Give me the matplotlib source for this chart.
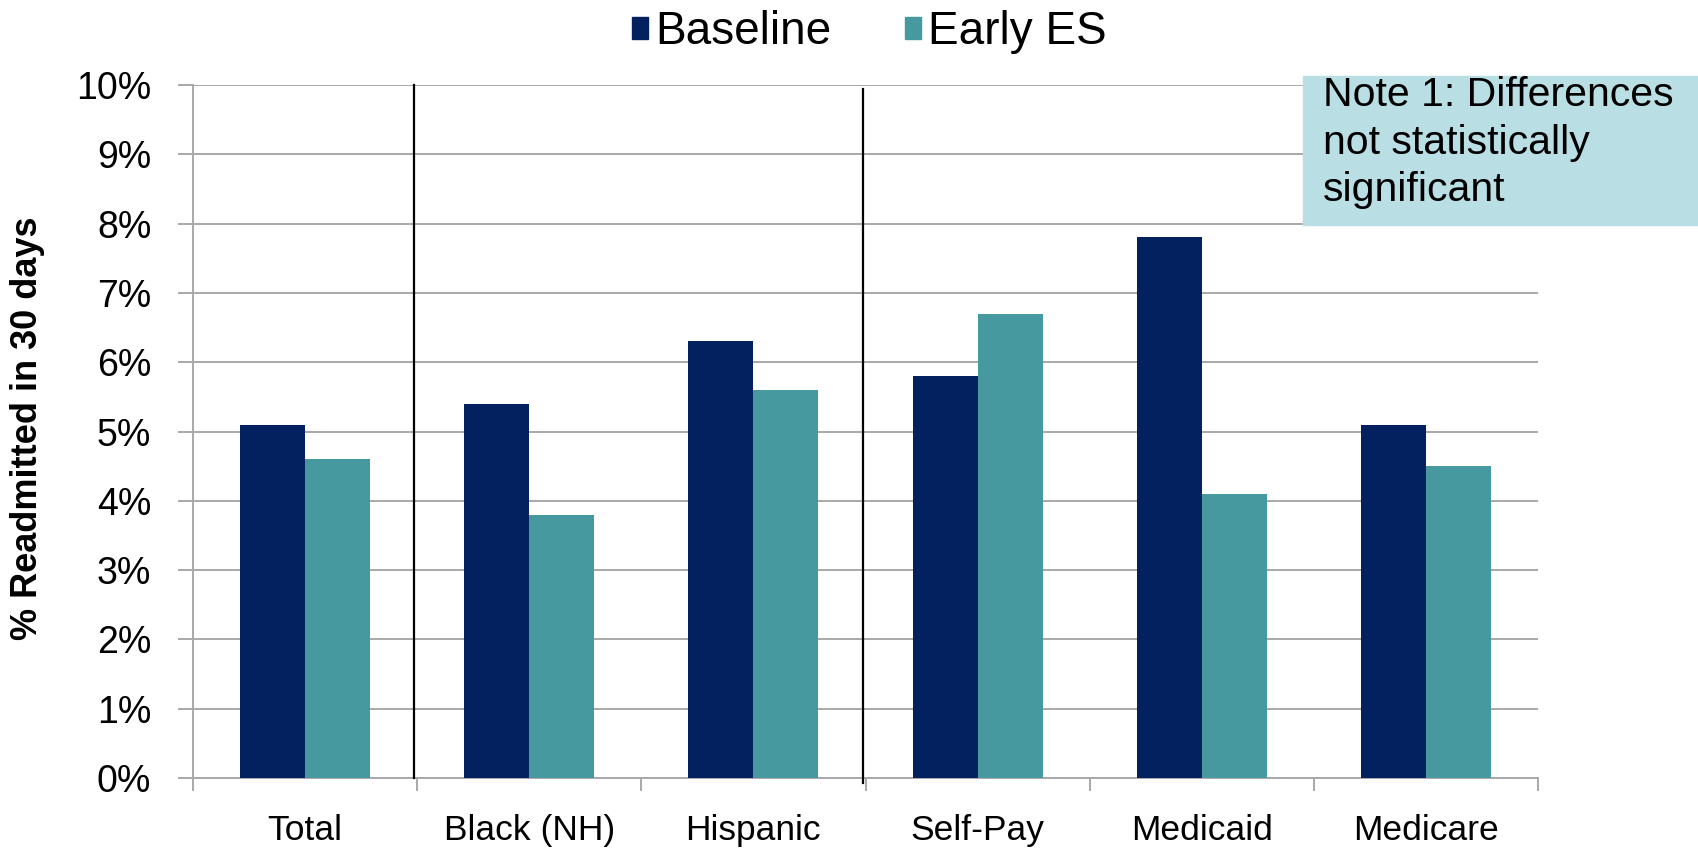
import matplotlib
matplotlib.use('Agg')
import matplotlib.pyplot as plt
from matplotlib.patches import Patch, Rectangle

plt.rcParams['font.family'] = ['Liberation Sans', 'DejaVu Sans']

categories = ['Total', 'Black (NH)', 'Hispanic', 'Self-Pay', 'Medicaid', 'Medicare']
baseline = [5.1, 5.4, 6.3, 5.8, 7.8, 5.1]
early_es = [4.6, 3.8, 5.6, 6.7, 4.1, 4.5]
series_names = ['Baseline', 'Early ES']
note_text = 'Note 1: Differences\nnot statistically\nsignificant'

NAVY = '#03215F'
TEAL = '#4799A0'
GRID = '#A8A8A8'

fig = plt.figure(figsize=(16.98, 8.49), dpi=100)
ax = fig.add_axes([193 / 1698, 1 - 778 / 849, 1345 / 1698, (778 - 85) / 849])

x = list(range(len(categories)))
w = 0.29
ax.bar([i - w / 2 for i in x], baseline, width=w, color=NAVY, zorder=3)
ax.bar([i + w / 2 for i in x], early_es, width=w, color=TEAL, zorder=3)

ax.set_xlim(-0.5, len(categories) - 0.5)
ax.set_ylim(0, 10)
ax.set_yticks(range(0, 11))
ax.set_yticklabels(['%d%%' % v for v in range(0, 11)], fontsize=27)
ax.yaxis.grid(True, color=GRID, lw=1.4, zorder=0)
ax.tick_params(axis='y', length=11, width=1.4, color=GRID, pad=19)

# group boundaries carry the tick marks, names sit in between
ax.set_xticks([i - 0.5 for i in range(len(categories) + 1)])
ax.set_xticklabels([])
ax.set_xticks(x, minor=True)
ax.set_xticklabels(categories, minor=True, fontsize=25.5)
ax.tick_params(axis='x', which='major', length=9, width=1.4, color=GRID)
ax.tick_params(axis='x', which='minor', length=0, pad=26)

for side in ['top', 'right']:
    ax.spines[side].set_visible(False)
for side in ['left', 'bottom']:
    ax.spines[side].set_color(GRID)
    ax.spines[side].set_linewidth(1.4)

# separators between total / race / payer groups
ax.plot([0.487, 0.487], [0, 10], color='black', lw=1.6, zorder=4, clip_on=False)
ax.plot([2.487, 2.487], [-0.07, 9.94], color='black', lw=1.6, zorder=4, clip_on=False)

fig.text(28 / 1698, 0.496, '% Readmitted in 30 days', rotation=90,
         ha='center', va='center', fontsize=26, fontweight='bold')

handles = [Patch(color=NAVY), Patch(color=TEAL)]
fig.legend(handles, series_names, loc='center', bbox_to_anchor=(0.512, 1 - 32 / 849),
           ncol=2, frameon=False, fontsize=33, handlelength=0.36, handleheight=0.36,
           handletextpad=0.15, columnspacing=1.6)

fig.patches.append(Rectangle((1303 / 1698, 1 - 225 / 849), 395 / 1698, 149 / 849,
                             transform=fig.transFigure, color='#B9DFE4', zorder=5))
fig.text(1323 / 1698, 1 - 76 / 849, note_text, ha='left', va='top',
         fontsize=29.5, linespacing=1.32, zorder=6)

fig.savefig('out.png', dpi=100)
